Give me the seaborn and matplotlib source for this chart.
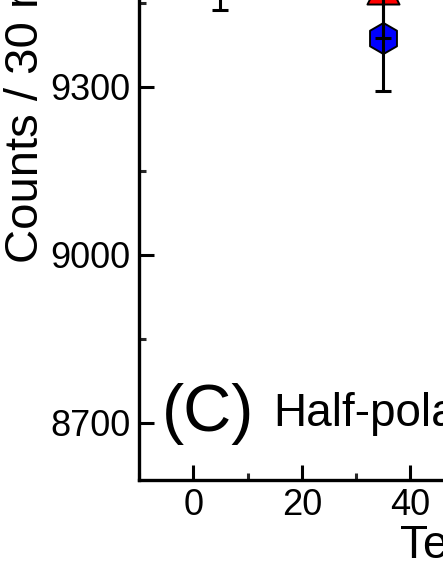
import numpy as np
import pandas as pd
import matplotlib
matplotlib.use("Agg")
import matplotlib.pyplot as plt
from matplotlib.ticker import MultipleLocator
import seaborn as sns

temps_red = [5, 35]
counts_red = [9530, 9477]
err_red = [93, 90]

temps_blue = [35]
counts_blue = [9387]
err_blue = [94]

x_ticks = [0, 20, 40, 60, 80]
y_ticks = [8700, 9000, 9300, 9600]

sns.set_theme(style="ticks")
plt.rcParams["font.family"] = ["Liberation Sans", "DejaVu Sans"]

fig = plt.figure(figsize=(4.43, 5.73), dpi=100)
W, H = 443.0, 573.0
# axes runs past the right and top edges, like the crop in the reference
ax = fig.add_axes([139 / W, 1 - 480 / H, 542.5 / W, 673 / H])

df_red = pd.DataFrame({"T": temps_red, "c": counts_red})
df_blue = pd.DataFrame({"T": temps_blue, "c": counts_blue})

sns.scatterplot(data=df_red, x="T", y="c", marker="^", s=32 ** 2 * 0.52,
                color="#ff0000", edgecolor="black", linewidth=1.4, ax=ax, zorder=3)
sns.scatterplot(data=df_blue, x="T", y="c", marker="h", s=31 ** 2 * 0.52,
                color="#0000ff", edgecolor="black", linewidth=1.4, ax=ax, zorder=3)

for xs, ys, es in [(temps_red, counts_red, err_red), (temps_blue, counts_blue, err_blue)]:
    ax.errorbar(xs, ys, yerr=es, fmt="none", ecolor="black", elinewidth=2.2,
                capsize=6, capthick=2.2, zorder=4)

ax.set_xlim(-10, 90)
ax.set_ylim(8598, 9800)
ax.set_xticks(x_ticks)
ax.set_yticks(y_ticks)
ax.xaxis.set_minor_locator(MultipleLocator(10))
ax.yaxis.set_minor_locator(MultipleLocator(150))
ax.tick_params(which="major", direction="in", length=10.5, width=2.2,
               labelsize=26, pad=6, colors="black")
ax.tick_params(which="minor", direction="in", length=5, width=2.2)
ax.tick_params(axis="x", which="both", top=False)
ax.tick_params(axis="y", which="both", right=False)
for s in ["left", "bottom"]:
    ax.spines[s].set_linewidth(2.4)
    ax.spines[s].set_color("black")
for s in ["top", "right"]:
    ax.spines[s].set_visible(False)
ax.set_xlabel("")
ax.set_ylabel("")

fig.text(38 / W, 1 - 263 / H, "Counts / 30 min", rotation=90, rotation_mode="anchor",
         ha="left", va="baseline", fontsize=34, color="black")
fig.text(400 / W, 1 - 558 / H, "Temperature (\u00b0C)", ha="left", va="baseline",
         fontsize=33, color="black")
fig.text(162 / W, 1 - 431 / H, "(C)", ha="left", va="baseline", fontsize=48, color="black")
fig.text(273 / W, 1 - 426 / H, "Half-polarized", ha="left", va="baseline",
         fontsize=33, color="black")

fig.savefig("out.png", dpi=100)
